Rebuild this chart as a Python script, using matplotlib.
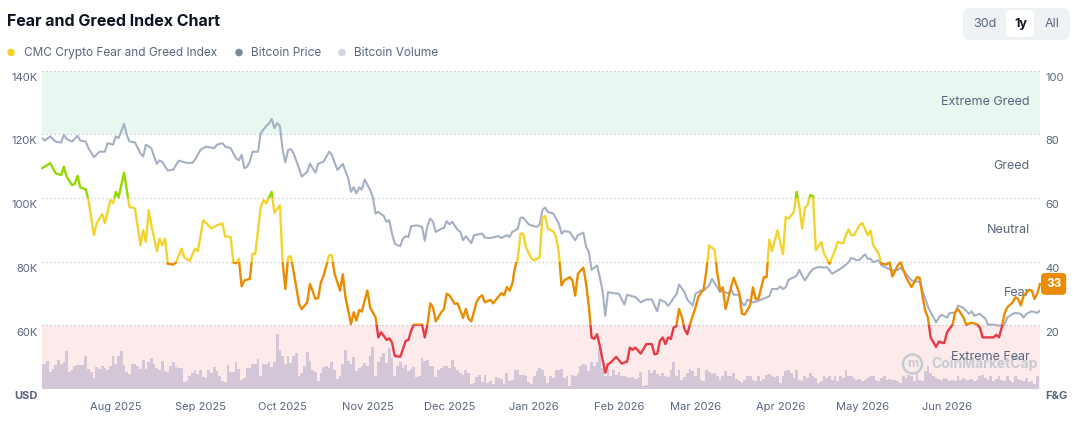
import numpy as np
import matplotlib
matplotlib.use("Agg")
import matplotlib.pyplot as plt
import matplotlib.dates as mdates
import matplotlib.transforms as mtransforms
from matplotlib.patches import Rectangle, FancyBboxPatch, Circle

plt.rcParams['font.family'] = ['Inter', 'DejaVu Sans']

# ---------------- data ----------------
start_date = np.datetime64('2025-07-05')
end_date = np.datetime64('2026-07-05')

fg_days = [0, 3, 5, 7, 8, 9, 11, 12, 13, 14,
           16, 17, 19, 20, 22, 23, 25, 26, 27, 28,
           30, 31, 32, 34, 36, 37, 38, 39, 40, 42,
           43, 44, 45, 46, 48, 49, 51, 52, 54, 56,
           57, 59, 62, 64, 66, 67, 69, 70, 71, 72,
           73, 74, 76, 77, 78, 80, 81, 82, 84, 85,
           87, 88, 89, 90, 91, 93, 94, 95, 97, 98,
           100, 101, 102, 103, 105, 106, 107, 109, 110, 111,
           113, 114, 115, 116, 117, 118, 119, 120, 122, 123,
           124, 125, 126, 127, 128, 129, 131, 132, 133, 134,
           135, 136, 139, 140, 141, 142, 143, 144, 146, 147,
           148, 149, 151, 152, 153, 154, 155, 156, 157, 159,
           160, 161, 162, 164, 165, 166, 168, 169, 170, 171,
           172, 173, 174, 175, 176, 177, 179, 180, 182, 183,
           184, 185, 187, 188, 189, 190, 191, 193, 194, 195,
           196, 198, 199, 200, 201, 202, 203, 204, 206, 207,
           208, 210, 212, 214, 215, 216, 217, 219, 221, 223,
           224, 225, 226, 227, 228, 229, 230, 231, 232, 233,
           234, 235, 236, 237, 239, 240, 242, 243, 244, 246,
           247, 248, 249, 250, 252, 253, 255, 256, 257, 259,
           260, 261, 262, 264, 265, 266, 267, 269, 271, 272,
           273, 275, 276, 277, 278, 279, 280, 281, 282, 283,
           285, 286, 288, 290, 291, 293, 294, 295, 296, 297,
           299, 300, 302, 303, 304, 306, 307, 309, 310, 311,
           313, 314, 316, 318, 319, 320, 321, 322, 323, 324,
           325, 327, 328, 329, 330, 331, 333, 334, 335, 337,
           338, 339, 340, 342, 343, 344, 346, 348, 349, 350,
           351, 352, 353, 355, 356, 357, 358, 359, 361, 362,
           363, 364, 365]

fg_values = [69.3, 70.9, 67.7, 67.2, 69.8, 66.7, 64.0, 64.4, 66.9, 63.3,
             62.7, 59.3, 48.3, 52.0, 54.9, 52.1, 59.3, 58.3, 61.9, 60.1,
             67.9, 62.5, 57.2, 56.7, 45.1, 49.8, 46.2, 56.2, 51.4, 43.3,
             47.2, 45.1, 47.2, 39.3, 39.1, 39.7, 44.1, 41.4, 40.2, 44.1,
             43.3, 53.0, 50.4, 51.4, 52.0, 47.9, 47.7, 39.7, 39.5, 40.9,
             32.2, 34.1, 34.6, 42.5, 42.4, 57.2, 59.3, 58.3, 61.9, 55.3,
             57.7, 39.9, 31.4, 41.4, 41.7, 32.0, 26.7, 25.1, 27.2, 33.0,
             28.3, 28.6, 33.5, 35.6, 42.0, 42.0, 36.2, 30.9, 36.0, 28.8,
             20.4, 24.1, 21.5, 24.8, 24.3, 27.8, 30.9, 25.6, 22.5, 16.2,
             17.8, 16.7, 15.4, 15.9, 14.6, 10.4, 10.1, 12.5, 15.1, 15.4,
             18.3, 20.2, 20.2, 16.2, 20.5, 26.9, 25.6, 21.2, 24.1, 25.1,
             29.9, 29.4, 26.7, 26.9, 24.6, 22.3, 25.1, 22.1, 21.2, 27.5,
             28.8, 29.4, 27.2, 28.0, 26.9, 28.0, 30.1, 29.4, 32.0, 30.9,
             33.0, 38.3, 40.9, 48.8, 48.8, 44.6, 40.9, 40.4, 41.4, 53.8,
             54.3, 50.3, 49.5, 47.7, 43.0, 32.5, 34.1, 35.1, 34.1, 29.3,
             36.2, 38.1, 33.0, 26.0, 16.2, 15.7, 17.2, 13.6, 5.1, 7.8,
             8.3, 10.1, 8.0, 8.6, 13.0, 12.3, 13.0, 11.1, 14.1, 14.1,
             10.9, 11.1, 15.1, 16.2, 14.1, 16.2, 15.7, 19.3, 19.7, 25.1,
             22.6, 18.8, 17.2, 20.4, 25.6, 28.8, 31.4, 37.2, 45.1, 43.6,
             36.2, 30.9, 31.9, 25.1, 31.9, 34.9, 30.1, 23.6, 23.4, 26.3,
             31.9, 28.3, 28.3, 35.1, 35.1, 46.9, 43.3, 49.8, 42.3, 54.0,
             53.5, 55.6, 61.9, 57.2, 50.4, 56.7, 57.8, 60.9, 60.6, 43.5,
             46.2, 42.5, 39.3, 43.5, 46.2, 45.7, 48.3, 50.1, 48.3, 48.3,
             51.4, 52.1, 48.3, 49.8, 45.1, 42.5, 39.3, 39.1, 39.9, 35.3,
             38.8, 39.9, 35.1, 32.0, 33.5, 35.1, 34.9, 29.3, 24.6, 22.5,
             16.2, 13.2, 14.9, 14.6, 14.4, 17.8, 20.2, 24.1, 25.1, 22.5,
             20.2, 20.5, 20.8, 20.3, 19.3, 16.2, 16.2, 16.2, 17.0, 16.2,
             19.3, 23.6, 25.6, 27.2, 28.8, 28.3, 26.2, 29.3, 31.1, 30.9,
             28.3, 29.9, 33.0]

price_days = [0, 1, 3, 5, 7, 8, 9, 11, 13, 14,
              16, 17, 19, 21, 23, 24, 26, 27, 28, 29,
              30, 31, 32, 34, 36, 37, 38, 40, 41, 42,
              43, 44, 46, 48, 49, 50, 53, 55, 56, 58,
              60, 63, 64, 66, 67, 69, 71, 72, 73, 74,
              75, 76, 77, 79, 80, 82, 83, 84, 85, 86,
              87, 88, 89, 90, 91, 92, 94, 95, 97, 98,
              100, 101, 103, 105, 106, 108, 109, 110, 112, 113,
              114, 115, 116, 117, 118, 120, 121, 122, 123, 125,
              126, 127, 128, 129, 131, 132, 133, 134, 135, 137,
              139, 140, 141, 142, 143, 144, 146, 147, 148, 149,
              150, 152, 153, 154, 155, 157, 158, 160, 161, 162,
              164, 167, 168, 170, 171, 172, 174, 175, 176, 178,
              180, 181, 182, 183, 184, 185, 187, 188, 189, 190,
              191, 193, 195, 196, 198, 199, 200, 201, 203, 204,
              205, 206, 207, 209, 211, 213, 214, 216, 217, 219,
              221, 223, 225, 226, 228, 229, 230, 231, 232, 233,
              235, 236, 238, 239, 241, 242, 244, 245, 247, 248,
              249, 251, 252, 253, 255, 256, 257, 258, 260, 262,
              264, 266, 267, 269, 270, 271, 272, 273, 275, 276,
              277, 278, 279, 281, 282, 284, 286, 287, 289, 291,
              293, 295, 296, 298, 299, 301, 302, 303, 304, 306,
              307, 309, 311, 313, 314, 316, 318, 319, 321, 322,
              324, 325, 327, 328, 329, 331, 332, 334, 335, 337,
              339, 340, 341, 343, 345, 346, 348, 350, 352, 353,
              355, 356, 358, 359, 360, 362, 364, 365]

btc_price_k = [118.8, 118.0, 119.3, 117.7, 117.4, 119.8, 118.5, 117.7, 119.5, 118.0,
               117.7, 115.6, 112.8, 114.5, 114.5, 117.2, 116.7, 119.3, 118.8, 120.9,
               123.3, 119.8, 117.7, 117.4, 114.0, 113.0, 116.7, 115.6, 113.0, 110.7,
               111.8, 111.3, 108.6, 108.9, 110.3, 111.7, 111.0, 111.0, 112.1, 115.1,
               116.1, 115.6, 116.7, 117.2, 116.1, 115.6, 112.4, 111.8, 113.5, 109.3,
               109.8, 111.4, 114.5, 114.5, 120.3, 122.6, 123.3, 124.8, 121.9, 123.5,
               122.6, 115.1, 111.1, 115.1, 115.3, 114.0, 109.3, 106.7, 108.2, 110.7,
               107.9, 110.7, 111.4, 114.5, 113.5, 108.8, 109.6, 110.7, 106.1, 101.9,
               103.3, 101.4, 103.3, 102.6, 105.8, 102.5, 100.3, 95.1, 95.6, 94.3,
               92.5, 93.0, 88.8, 85.6, 84.8, 87.2, 88.0, 87.7, 91.1, 91.4,
               90.9, 86.5, 91.4, 93.5, 92.5, 89.3, 90.3, 90.6, 92.7, 91.7,
               92.5, 90.0, 89.3, 86.7, 88.0, 85.8, 88.3, 88.6, 88.8, 87.5,
               87.4, 88.0, 87.4, 88.3, 87.7, 89.3, 90.3, 93.8, 93.8, 91.7,
               91.1, 90.9, 91.6, 96.2, 97.0, 95.6, 95.1, 93.5, 92.0, 88.8,
               89.6, 89.3, 86.7, 88.3, 89.1, 84.6, 83.0, 77.4, 78.8, 75.1,
               70.9, 63.0, 70.4, 70.1, 69.9, 66.5, 69.6, 69.1, 68.9, 67.2,
               68.1, 68.1, 64.4, 68.1, 67.2, 66.1, 67.2, 68.6, 69.6, 72.8,
               70.4, 68.1, 66.2, 69.9, 70.9, 70.9, 72.5, 74.6, 71.9, 70.4,
               70.9, 69.9, 71.4, 69.6, 69.6, 66.9, 66.2, 68.1, 67.2, 67.7,
               68.4, 69.1, 71.4, 71.4, 72.2, 71.4, 71.9, 74.3, 75.1, 75.6,
               77.4, 75.6, 74.1, 76.7, 77.7, 78.3, 78.1, 78.3, 76.2, 77.2,
               78.3, 79.8, 81.2, 80.4, 80.6, 82.3, 80.9, 80.9, 79.8, 80.4,
               78.8, 78.0, 77.2, 77.4, 78.1, 76.2, 74.1, 73.9, 73.6, 70.9,
               65.9, 64.1, 60.9, 62.4, 63.3, 62.4, 63.9, 63.9, 66.2, 65.5,
               63.6, 64.4, 63.0, 63.6, 62.1, 60.2, 60.2, 59.9, 60.2, 62.4,
               63.6, 63.9, 63.6, 62.4, 63.6, 64.4, 63.9, 64.6]

# daily bitcoin volume (relative units), one bar per day from start_date
btc_volume = [25, 25, 28, 17, 20, 24, 29, 25, 27, 38,
              17, 19, 23, 24, 24, 24, 33, 20, 17, 11,
              22, 20, 23, 21, 19, 23, 33, 25, 33, 38,
              24, 17, 15, 25, 25, 23, 20, 29, 20, 27,
              31, 25, 21, 19, 28, 18, 17, 23, 27, 22,
              21, 21, 7, 8, 13, 16, 19, 15, 19, 12,
              11, 19, 16, 22, 18, 13, 8, 7, 24, 17,
              17, 27, 20, 9, 11, 21, 21, 25, 25, 30,
              13, 25, 25, 27, 22, 27, 55, 39, 33, 25,
              33, 26, 33, 36, 13, 16, 23, 37, 28, 19,
              17, 8, 16, 22, 23, 21, 27, 19, 10, 13,
              25, 39, 28, 25, 32, 18, 21, 23, 26, 23,
              33, 42, 13, 27, 32, 36, 26, 41, 31, 13,
              23, 27, 21, 24, 18, 20, 22, 12, 13, 31,
              28, 29, 23, 23, 12, 19, 21, 23, 23, 21,
              29, 22, 19, 16, 14, 19, 16, 5, 6, 12,
              14, 7, 14, 6, 8, 5, 12, 11, 10, 5,
              16, 8, 9, 19, 19, 14, 14, 13, 7, 5,
              13, 18,
              21, 19, 13, 6, 13, 11, 19, 19, 20, 11,
              13, 3, 14, 13, 16, 23, 25, 24, 18, 27,
              23, 27, 41, 21, 13, 20, 13, 19, 14, 17,
              13, 13, 12, 11, 12, 10, 11, 17, 3, 4,
              19, 16, 19, 15, 13, 16, 13, 12, 19, 27,
              13, 19, 9, 12, 16, 20, 18, 13, 21, 9,
              8, 19, 17, 15, 16, 13, 9, 13, 18, 13,
              13, 16, 10, 8, 6, 9, 13, 13, 9, 8,
              13, 8, 10, 14, 15, 13, 12, 13, 6, 13,
              18, 19,
              16, 11, 19, 9, 8, 13, 11, 16, 13, 11,
              6, 8, 13, 11, 13, 9, 13, 8, 13, 11,
              19, 13, 13, 11, 9, 10, 8, 9, 11, 13,
              13, 9, 8, 11, 13, 9, 10, 9, 9, 8,
              6, 13, 11, 14, 13, 8, 16, 9, 8, 18,
              23, 16, 13, 11, 10, 9, 11, 10, 8, 9,
              8, 13, 9, 11, 9, 9, 10, 8, 9, 13,
              14, 11, 9, 13, 8, 10, 13, 9, 8, 13,
              9, 7, 13, 10, 9, 8, 11, 7, 8, 5,
              13]
volume_axis_max = 318.5

month_ticks = ['2025-08-01', '2025-09-01', '2025-10-01', '2025-11-01', '2025-12-01',
               '2026-01-01', '2026-02-01', '2026-03-01', '2026-04-01', '2026-05-01',
               '2026-06-01']
month_labels = ['Aug 2025', 'Sep 2025', 'Oct 2025', 'Nov 2025', 'Dec 2025',
                'Jan 2026', 'Feb 2026', 'Mar 2026', 'Apr 2026', 'May 2026', 'Jun 2026']

price_ticks_k = [40, 60, 80, 100, 120, 140]
price_tick_labels = ['USD', '60K', '80K', '100K', '120K', '140K']
fg_ticks = [0, 20, 40, 60, 80, 100]
fg_tick_labels = ['F&G', '20', '40', '60', '80', '100']

zones = [(0, 20, 'Extreme Fear', '#EA3943'),
         (20, 40, 'Fear', '#EA8C00'),
         (40, 60, 'Neutral', '#F3D42F'),
         (60, 80, 'Greed', '#93D900'),
         (80, 100, 'Extreme Greed', '#16C784')]

legend_items = [('CMC Crypto Fear and Greed Index', '#F3D42F'),
                ('Bitcoin Price', '#7F899C'),
                ('Bitcoin Volume', '#CFD6E4')]

# ---------------- style ----------------
TEXT = '#58667E'
DARK = '#0D1421'
W, H = 1073, 440
L_PX, R_PX, T_PX, B_PX = 42, 1040, 70.5, 389

fig = plt.figure(figsize=(W / 100, H / 100), dpi=100)
fig.patch.set_facecolor('white')
rect = [L_PX / W, 1 - B_PX / H, (R_PX - L_PX) / W, (B_PX - T_PX) / H]

ax = fig.add_axes(rect)          # zones / grid (F&G scale)
ax_vol = ax.twinx()              # volume bars
ax_price = ax.twinx()            # bitcoin price
ax_fg = ax.twinx()               # fear & greed line
for i, a in enumerate([ax, ax_vol, ax_price, ax_fg]):
    a.set_zorder(i)
    for s in a.spines.values():
        s.set_visible(False)
    a.set_yticks([])
    if i > 0:
        a.patch.set_visible(False)
ax.set_facecolor('white')

def dnum(days):
    return mdates.date2num(start_date + np.array(days).astype('timedelta64[D]'))

x0, x1 = mdates.date2num(start_date), mdates.date2num(end_date)
ax.set_xlim(x0, x1)
ax.set_ylim(0, 100)
ax_fg.set_ylim(0, 100)
ax_price.set_ylim(price_ticks_k[0], price_ticks_k[-1])
ax_vol.set_ylim(0, volume_axis_max)

# zone backgrounds
ax.axhspan(80, 100, color='#E8F8F1', lw=0, zorder=0)
ax.axhspan(0, 20, color='#FDEBEC', lw=0, zorder=0)
# dotted grid
for v in fg_ticks:
    ax.axhline(v, color='#BFC5CF', lw=0.9, ls=(0, (1, 2.2)), zorder=1)

# volume
vol_x = dnum(np.arange(len(btc_volume)))
ax_vol.bar(vol_x, btc_volume, width=1.0, color='#D3C6D6', linewidth=0, align='center')

# price
ax_price.plot(dnum(price_days), btc_price_k, color='#A6B0C3', lw=1.5,
              solid_joinstyle='round', solid_capstyle='round', zorder=2)

# fear & greed line coloured by zone
fg_x = dnum(fg_days)
blend = mtransforms.blended_transform_factory(ax_fg.transAxes, ax_fg.transData)
for lo, hi, name, col in zones:
    lo_c = -1000 if lo == 0 else lo
    hi_c = 1000 if hi == 100 else hi
    clip = Rectangle((-0.05, lo_c), 1.1, hi_c - lo_c, transform=blend,
                     facecolor='none', edgecolor='none')
    ln, = ax_fg.plot(fg_x, fg_values, color=col, lw=1.7, solid_joinstyle='round',
                     solid_capstyle='round', zorder=3)
    ln.set_clip_path(clip)

# zone names
for lo, hi, name, col in zones:
    ax_fg.annotate(name, xy=(1, (lo + hi) / 2), xycoords=blend, xytext=(-7.2, 0),
                   textcoords='offset points', ha='right', va='center',
                   fontsize=9, color=TEXT, zorder=1, annotation_clip=False)

# x axis labels
ax.set_xticks(dnum([(np.datetime64(m) - start_date).astype(int) for m in month_ticks]))
ax.set_xticklabels(month_labels)
ax.tick_params(axis='x', length=0, pad=9.5, labelsize=8, labelcolor=TEXT)

# left (price) labels
pblend = mtransforms.blended_transform_factory(ax_price.transAxes, ax_price.transData)
for v, lab in zip(price_ticks_k, price_tick_labels):
    ax_price.annotate(lab, xy=(0, v), xycoords=pblend, xytext=(-3.4, -5.2),
                      textcoords='offset points', ha='right', va='center',
                      fontsize=8, color=TEXT, fontweight='bold' if lab == 'USD' else 'normal',
                      annotation_clip=False)
# right (F&G) labels
for v, lab in zip(fg_ticks, fg_tick_labels):
    ax.annotate(lab, xy=(1, v), xycoords=mtransforms.blended_transform_factory(ax.transAxes, ax.transData),
                xytext=(3.6, -5.2), textcoords='offset points', ha='left', va='center',
                fontsize=8, color=TEXT, fontweight='bold' if lab == 'F&G' else 'normal',
                annotation_clip=False)

# current value badge
last = fg_values[-1]
ax_fg.annotate(f'{last:.0f}', xy=(1, last), xycoords=blend, xytext=(4.3, 0),
               textcoords='offset points', ha='left', va='center', fontsize=8.5,
               fontweight='bold', color='white', zorder=10, annotation_clip=False,
               bbox=dict(boxstyle='round,pad=0.42,rounding_size=0.35', fc='#EA8C00', ec='none'))

# watermark
fig.add_artist(Circle((9.125, (H - 364) / 100), 0.095, transform=fig.dpi_scale_trans,
                      fill=False, ec='#C6CBD3', lw=1.8, zorder=0.5))
fig.text(912.5 / W, 1 - 364 / H, 'm', ha='center', va='center', fontsize=9,
         fontweight='bold', color='#C6CBD3', zorder=0.5)
fig.text(931 / W, 1 - 364 / H, 'CoinMarketCap', ha='left', va='center', fontsize=10,
         fontweight='bold', color='#C6CBD3', zorder=0.5)

# title
fig.text(7 / W, 1 - 22 / H, 'Fear and Greed Index Chart', ha='left', va='center',
         fontsize=11.5, fontweight='bold', color=DARK)

# legend
leg_pos = [(11, 24), (239, 251), (342, 354)]
for (lab, col), (dx, tx) in zip(legend_items, leg_pos):
    fig.add_artist(Circle((dx / 100, (H - 52.5) / 100), 0.038, transform=fig.dpi_scale_trans,
                          fc=col, ec='none'))
    fig.text(tx / W, 1 - 52.5 / H, lab, ha='left', va='center', fontsize=8.5, color=TEXT)

# range buttons
fig.add_artist(FancyBboxPatch((9.63, (H - 40) / 100), 1.07, 0.32,
                              boxstyle='round,pad=0,rounding_size=0.07',
                              transform=fig.dpi_scale_trans, fc='#EFF2F5', ec='none'))
fig.add_artist(FancyBboxPatch((10.06, (H - 37) / 100), 0.28, 0.27,
                              boxstyle='round,pad=0,rounding_size=0.05',
                              transform=fig.dpi_scale_trans, fc='white', ec='none'))
for lab, xp, bold in [('30d', 984.5, False), ('1y', 1020.5, True), ('All', 1052, False)]:
    fig.text(xp / W, 1 - 24 / H, lab, ha='center', va='center', fontsize=9,
             color=DARK if bold else TEXT, fontweight='bold' if bold else 'normal', zorder=5)

fig.savefig('out.png', dpi=100, facecolor='white')
